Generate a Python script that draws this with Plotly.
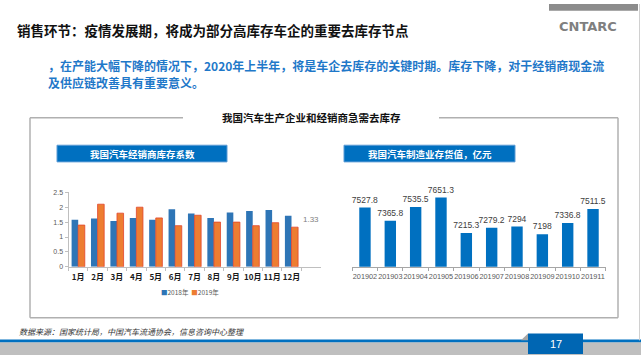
import plotly.graph_objects as go

# ---------------- data ----------------
months = ["1月", "2月", "3月", "4月", "5月", "6月", "7月", "8月", "9月", "10月", "11月", "12月"]
coef_2018 = [1.58, 1.62, 1.54, 1.64, 1.58, 1.93, 1.79, 1.64, 1.82, 1.87, 1.91, 1.71]
coef_2019 = [1.40, 2.10, 1.80, 2.00, 1.64, 1.38, 1.73, 1.50, 1.50, 1.38, 1.48, 1.33]
series_names = ["2018年", "2019年"]

periods = ["201902", "201903", "201904", "201905", "201906", "201907", "201908", "201909", "201910", "201911"]
inventory = [7527.8, 7365.8, 7535.5, 7651.3, 7215.3, 7279.2, 7294, 7198, 7336.8, 7511.5]

page_title = "销售环节：疫情发展期，将成为部分高库存车企的重要去库存节点"
lead_line1 = "，在产能大幅下降的情况下，2020年上半年，将是车企去库存的关键时期。库存下降，对于经销商现金流"
lead_line2 = "及供应链改善具有重要意义。"
box_title = "我国汽车生产企业和经销商急需去库存"
left_title = "我国汽车经销商库存系数"
right_title = "我国汽车制造业存货值，亿元"
source_text = "数据来源：国家统计局，中国汽车流通协会，信息咨询中心整理"
page_no = "17"

# ---------------- layout helpers ----------------
W, H = 641, 362
def px(x):
    return x / W
def py(y):
    return 1 - y / H

CJK = "Noto Sans CJK SC"
BLUE_L = "#2E75B6"
ORANGE = "#ED7D31"
BLUE_R = "#0070C0"

fig = go.Figure()

fig.add_trace(go.Bar(x=months, y=coef_2018, name=series_names[0], marker=dict(color=BLUE_L, line=dict(width=0)),
                     xaxis="x", yaxis="y", showlegend=False))
fig.add_trace(go.Bar(x=months, y=coef_2019, name=series_names[1], marker=dict(color=ORANGE, line=dict(color="#E2452C", width=0.8)),
                     xaxis="x", yaxis="y", showlegend=False))

fig.add_trace(go.Bar(x=periods, y=inventory, marker=dict(color=BLUE_R, line=dict(width=0)),
                     text=[f"{v:g}" for v in inventory], textposition="outside", constraintext="none",
                     textfont=dict(family="Liberation Sans", size=8.5, color="#404040"),
                     cliponaxis=False, xaxis="x2", yaxis="y2", showlegend=False, width=0.45))

y_dom = [py(268), py(192)]

fig.update_layout(
    width=W, height=H, margin=dict(l=0, r=0, t=0, b=0),
    paper_bgcolor="white", plot_bgcolor="rgba(0,0,0,0)",
    barmode="group", bargap=0.32, bargroupgap=0,
    showlegend=False,
    xaxis=dict(domain=[px(68.5), px(320.5)], anchor="y", showline=True, linecolor="#BFBFBF", linewidth=1,
               ticks="outside", tickson="boundaries", ticklen=3, tickcolor="#BFBFBF", tickangle=0,
               ticklabelstandoff=3,
               tickfont=dict(family=CJK, size=8, color="#1a1a1a", weight="bold"), showgrid=False),
    yaxis=dict(domain=y_dom, anchor="x", range=[0, 2.5], dtick=0.5, showline=True, linecolor="#BFBFBF", linewidth=1,
               ticks="outside", ticklen=3, tickcolor="#BFBFBF", showgrid=False, zeroline=False,
               tickfont=dict(family="Liberation Sans", size=7, color="#595959")),
    xaxis2=dict(domain=[px(352.3), px(605.7)], anchor="y2", showline=True, linecolor="#A6A6A6", linewidth=1,
                ticks="outside", tickson="boundaries", ticklen=3, tickcolor="#A6A6A6", tickangle=0,
                ticklabelstandoff=2,
                tickfont=dict(family="Liberation Sans", size=7.3, color="#595959"), showgrid=False),
    yaxis2=dict(domain=y_dom, anchor="x2", range=[6798, 7716], visible=False, showgrid=False, zeroline=False),
)

shapes = []
def line(x0, y0, x1, y1, color, w):
    shapes.append(dict(type="line", xref="paper", yref="paper", x0=px(x0), y0=py(y0), x1=px(x1), y1=py(y1),
                       line=dict(color=color, width=w)))
def rect(x0, y0, x1, y1, fill, lc=None, lw=0):
    shapes.append(dict(type="rect", xref="paper", yref="paper", x0=px(x0), y0=py(y0), x1=px(x1), y1=py(y1),
                       fillcolor=fill, line=dict(color=lc or fill, width=lw), layer="below"))

# top-right grey bar and right edge
rect(549, 0, 638, 7, "#8C8C8C")
line(639.5, 0, 639.5, 343, "#D0D0D0", 1)

# outer box with title gap
BOX = "#B0B0B0"
line(30, 116, 183, 116, BOX, 1.5)
line(439, 116, 618, 116, BOX, 1.5)
line(30, 116, 30, 320, BOX, 1.5)
line(618, 116, 618, 320, BOX, 1.5)
line(30, 320, 618, 320, BOX, 1.5)

# blue chart title boxes
rect(57, 144, 227, 161, "#0070C0", "#5B9BD5", 1)
rect(344, 144, 515, 161, "#0070C0", "#5B9BD5", 1)

# footer
rect(0, 345, 641, 358, "#BFBFBF")
rect(0, 342, 641, 345, "#0070C0")
shapes.append(dict(type="path", xref="paper", yref="paper",
                   path=f"M {px(521)} {py(343)} L {px(528)} {py(336)} L {px(528)} {py(343)} Z",
                   fillcolor="#A6A6A6", line=dict(width=0)))
rect(528, 336, 583, 357, "#0066B3")

fig.update_layout(shapes=shapes)

ann = []
def text(x, y, s, size, color, xanchor="left", bold=False, family=CJK, italic=False, align="left"):
    ann.append(dict(x=px(x), y=py(y), xref="paper", yref="paper", text=s, showarrow=False,
                    xanchor=xanchor, yanchor="middle", align=align,
                    font=dict(family=family, size=size, color=color,
                              weight="bold" if bold else "normal",
                              style="italic" if italic else "normal")))

text(15, 27, page_title, 13.5, "#111111", bold=True)
text(557, 23, "CNTARC", 13, "#7F7F7F", bold=True, family="DejaVu Sans")
text(46, 62.5, lead_line1, 12, "#1F78C9", bold=True)
text(46, 80.5, lead_line2, 12, "#1F78C9", bold=True)
text(311, 116, box_title, 10.5, "#111111", xanchor="center", bold=True)
text(142, 152.5, left_title, 9.5, "white", xanchor="center", bold=True)
text(429.5, 152.5, right_title, 9.5, "white", xanchor="center", bold=True)
text(190, 294, f"<span style='color:{BLUE_L}'>■</span>{series_names[0]}  <span style='color:{ORANGE}'>■</span>{series_names[1]}",
     6.5, "#595959", xanchor="center")
text(17, 334, source_text, 8, "#333333", italic=True)
text(555.5, 347, page_no, 11, "white", xanchor="center", family="Liberation Sans")

# last-value label on the left chart
ann.append(dict(x=months[-1], y=coef_2019[-1], xref="x", yref="y", text=f"{coef_2019[-1]:.2f}", showarrow=False,
                xshift=9, yshift=8, xanchor="left", yanchor="middle",
                font=dict(family="Liberation Sans", size=8, color="#7F7F7F")))

fig.update_layout(annotations=ann)

fig.write_html("out.html", config={"displayModeBar": False},
               post_script="document.body.style.margin='0';document.body.style.overflow='hidden';")
